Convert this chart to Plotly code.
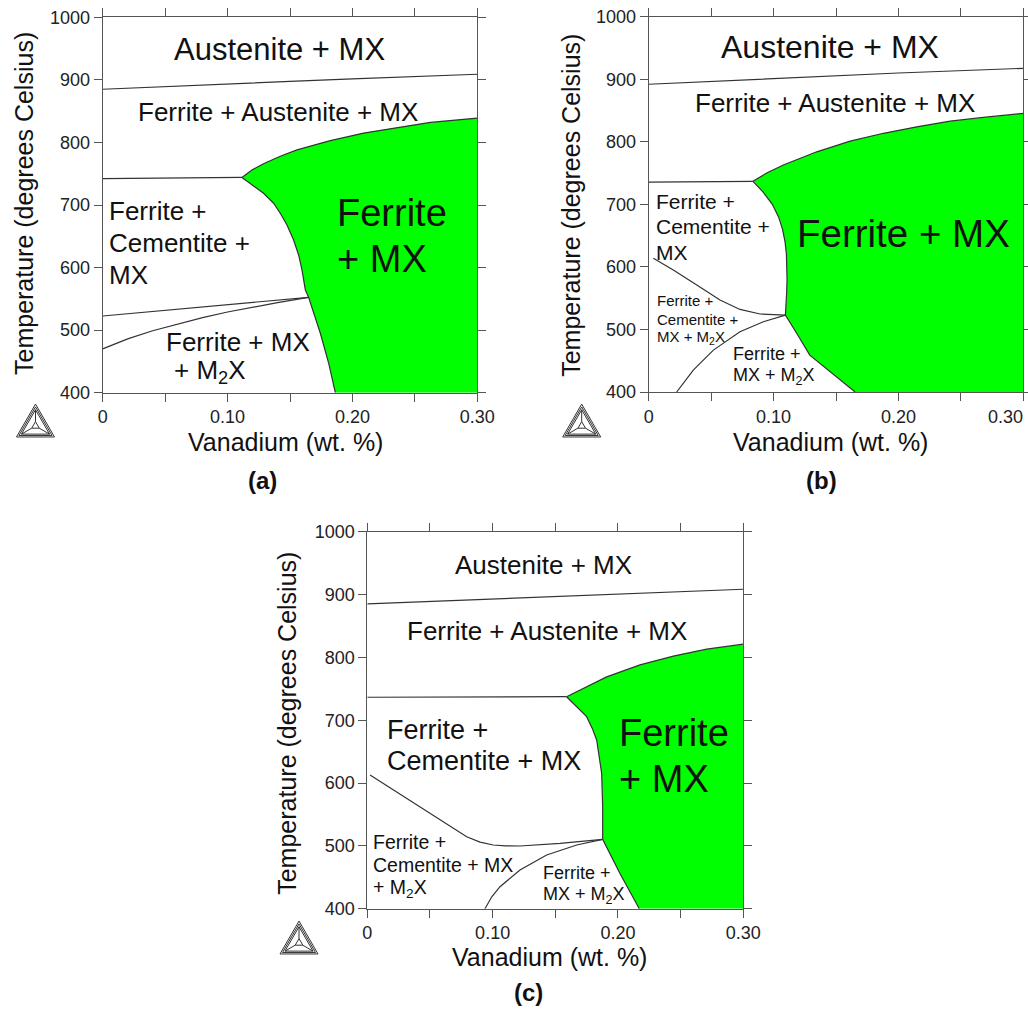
import plotly.graph_objects as go

W, H = 1028, 1009
FONT = "Liberation Sans, Arial, Helvetica, sans-serif"
GREEN = "#00ff00"
LINE = "#333333"
FRAME = "#555555"

# ---------------- Panel (a) ----------------
A_AUS_V = [0, 0.05, 0.10, 0.15, 0.20, 0.25, 0.30]
A_AUS_T = [885, 889.5, 893.5, 897.5, 901.5, 905.5, 909]
A_EUT_V = [0, 0.1115]
A_EUT_T = [742, 744]
A_TOP_V = [0.1115, 0.1195, 0.1288, 0.1422, 0.1556, 0.1823, 0.2090, 0.2358, 0.2625, 0.30]
A_TOP_T = [744, 756, 766, 778, 788, 803, 815, 824, 832, 839]
A_LEFT_V = [0.1115, 0.1182, 0.1288, 0.1369, 0.1422, 0.1476, 0.1529, 0.1569, 0.1596, 0.1623,
            0.1649, 0.1743, 0.1810, 0.1863]
A_LEFT_T = [744, 734.8, 718.8, 702.8, 686.8, 668.1, 644.1, 620.1, 596.2, 564.2,
            552.5, 495, 447, 400]
A_UP_V = [0, 0.07, 0.11, 0.1649]
A_UP_T = [522.6, 535, 542.5, 552.5]
A_LO_V = [0, 0.02, 0.04, 0.06, 0.08, 0.10, 0.12, 0.14, 0.1649]
A_LO_T = [470, 486, 499, 510, 520, 529, 537, 544, 552.5]

# ---------------- Panel (b) ----------------
B_AUS_V = [0, 0.10, 0.20, 0.30]
B_AUS_T = [892, 901, 910, 917.5]
B_EUT_V = [0, 0.0835]
B_EUT_T = [735.5, 736.8]
B_TOP_V = [0.0835, 0.0945, 0.1078, 0.1346, 0.1613, 0.1880, 0.2147, 0.2414, 0.2680, 0.30]
B_TOP_T = [736.8, 750, 763, 784, 801, 813.6, 824, 833, 839, 845.5]
B_LEFT_V = [0.0835, 0.0915, 0.0990, 0.1040, 0.1072, 0.1092, 0.1103, 0.1108, 0.1108, 0.1105,
            0.1100, 0.1095, 0.1185, 0.1290, 0.1653]
B_LEFT_T = [736.8, 720, 700, 680, 660, 640, 620, 600, 580, 560,
            540, 523, 494, 459, 400]
B_UP_V = [0.0037, 0.0197, 0.0385, 0.0571, 0.0731, 0.0892, 0.1095]
B_UP_T = [613.7, 595, 571, 547, 532, 524.7, 523]
B_LO_V = [0.0224, 0.0357, 0.0518, 0.0731, 0.0918, 0.1095]
B_LO_T = [400, 435, 467, 496.4, 512.4, 523]

# ---------------- Panel (c) ----------------
C_AUS_V = [0, 0.10, 0.20, 0.30]
C_AUS_T = [885, 893, 901, 908.4]
C_EUT_V = [0, 0.159]
C_EUT_T = [736.5, 737.4]
C_TOP_V = [0.159, 0.175, 0.191, 0.2176, 0.2442, 0.2708, 0.30]
C_TOP_T = [737.4, 753.4, 769, 788, 802, 813, 821]
C_LEFT_V = [0.159, 0.167, 0.175, 0.1795, 0.183, 0.187, 0.1878, 0.1878, 0.2016, 0.217]
C_LEFT_T = [737.4, 721, 705.6, 687, 668.5, 615.5, 562.3, 510.4, 456, 400]
C_UP_V = [0.0022, 0.0208, 0.042, 0.0606, 0.0793, 0.0899, 0.1005, 0.1100, 0.1218, 0.1538, 0.1878]
C_UP_T = [612.8, 589, 562.3, 538.5, 514.6, 506, 501.4, 500, 499.8, 504, 510.4]
C_LO_V = [0.0939, 0.0993, 0.1059, 0.1218, 0.1431, 0.1671, 0.1878]
C_LO_T = [400, 419, 435, 461.6, 485.5, 501.4, 510.4]

V_RANGE = [0, 0.30]
T_RANGE = [400, 1000]
V_TICKS = [0, 0.10, 0.20, 0.30]
V_TICKTEXT = ["0", "0.10", "0.20", "0.30"]
V_MINOR = [0.05, 0.15, 0.25]
T_TICKS = [400, 500, 600, 700, 800, 900, 1000]
X_TITLE = "Vanadium (wt. %)"
Y_TITLE = "Temperature (degrees Celsius)"

# Region labels: (text, V, T, size, xanchor)
A_LABELS = [
    ("Austenite + MX", 0.1414, 948, 31, "center"),
    ("Ferrite + Austenite + MX", 0.1405, 849, 26, "center"),
    ("Ferrite +", 0.0032, 690, 26, "left"),
    ("Cementite +", 0.0032, 639, 26, "left"),
    ("MX", 0.0032, 588, 26, "left"),
    ("Ferrite", 0.1858, 687, 38, "left"),
    ("+ MX", 0.1858, 613, 38, "left"),
    ("Ferrite + MX", 0.0492, 481.5, 26, "left"),
    ("+ M<sub>2</sub>X", 0.0553, 433.6, 26, "left"),
]
B_LABELS = [
    ("Austenite + MX", 0.145, 952, 32, "center"),
    ("Ferrite + Austenite + MX", 0.1495, 862.5, 26, "center"),
    ("Ferrite +", 0.0045, 704.2, 21, "left"),
    ("Cementite +", 0.0045, 664.3, 21, "left"),
    ("MX", 0.0045, 623.3, 21, "left"),
    ("Ferrite + MX", 0.204, 653.7, 38.5, "center"),
    ("Ferrite +", 0.0053, 545.5, 15, "left"),
    ("Cementite +", 0.0053, 516.7, 15, "left"),
    ("MX + M<sub>2</sub>X", 0.0053, 487.5, 15, "left"),
    ("Ferrite +", 0.0657, 460.8, 18, "left"),
    ("MX + M<sub>2</sub>X", 0.0657, 424.5, 18, "left"),
]
C_LABELS = [
    ("Austenite + MX", 0.1407, 947, 26, "center"),
    ("Ferrite + Austenite + MX", 0.1431, 842, 26, "center"),
    ("Ferrite +", 0.0141, 684.4, 27, "left"),
    ("Cementite + MX", 0.0141, 635.6, 27, "left"),
    ("Ferrite", 0.1995, 679.2, 38, "left"),
    ("+ MX", 0.1995, 606, 38, "left"),
    ("Ferrite +", 0.0030, 506.6, 19.5, "left"),
    ("Cementite + MX", 0.0030, 469.6, 19.5, "left"),
    ("+ M<sub>2</sub>X", 0.0030, 432.5, 19.5, "left"),
    ("Ferrite +", 0.1386, 456.3, 18, "left"),
    ("MX + M<sub>2</sub>X", 0.1386, 421.8, 18, "left"),
]


def px(x):
    return x / W


def py(y):
    return 1 - y / H


PANELS = [
    dict(name="(a)", xa="x", ya="y", xdom=[102.7, 477.3], ydom=[17.3, 392.7],
         aus=(A_AUS_V, A_AUS_T), eut=(A_EUT_V, A_EUT_T), top=(A_TOP_V, A_TOP_T),
         left=(A_LEFT_V, A_LEFT_T), lines=[(A_UP_V, A_UP_T), (A_LO_V, A_LO_T)],
         labels=A_LABELS, xtitle=(285.5, 441.7), ytitle=(24, 204),
         tag=(262, 480), logo=(35.5, 426), page_edge=False),
    dict(name="(b)", xa="x2", ya="y2", xdom=[648.7, 1023.3], ydom=[16.7, 392.0],
         aus=(B_AUS_V, B_AUS_T), eut=(B_EUT_V, B_EUT_T), top=(B_TOP_V, B_TOP_T),
         left=(B_LEFT_V, B_LEFT_T), lines=[(B_UP_V, B_UP_T), (B_LO_V, B_LO_T)],
         labels=B_LABELS, xtitle=(830.5, 441.7), ytitle=(570.8, 205),
         tag=(821, 480), logo=(581.7, 426), page_edge=True),
    dict(name="(c)", xa="x3", ya="y3", xdom=[367.3, 743.3], ydom=[531.7, 908.7],
         aus=(C_AUS_V, C_AUS_T), eut=(C_EUT_V, C_EUT_T), top=(C_TOP_V, C_TOP_T),
         left=(C_LEFT_V, C_LEFT_T), lines=[(C_UP_V, C_UP_T), (C_LO_V, C_LO_T)],
         labels=C_LABELS, xtitle=(549, 956.7), ytitle=(287.5, 723.3),
         tag=(528, 992), logo=(299, 943), page_edge=False),
]

fig = go.Figure()
annotations = []
shapes = []


def logo_shapes(cx, cy, size=38):
    """Nested-triangle software logo drawn in pixel space around its centroid (cx, cy)."""
    h = size * 0.866
    out = []

    def tri(scale):
        return [(cx + dx * scale, cy + dy * scale)
                for dx, dy in [(0, -2 * h / 3), (-size / 2, h / 3), (size / 2, h / 3)]]

    def tri_path(p):
        return "M {} {} L {} {} L {} {} Z".format(
            px(p[0][0]), py(p[0][1]), px(p[1][0]), py(p[1][1]), px(p[2][0]), py(p[2][1]))

    for s in (1.0, 0.87, 0.74):
        out.append(dict(type="path", xref="paper", yref="paper", path=tri_path(tri(s)),
                        line=dict(color="#333333", width=1)))
    inner = tri(0.2)
    outer = tri(0.74)
    out.append(dict(type="path", xref="paper", yref="paper", path=tri_path(inner),
                    line=dict(color="#333333", width=1)))
    for a, b in zip(inner, outer):
        out.append(dict(type="line", xref="paper", yref="paper",
                        x0=px(a[0]), y0=py(a[1]), x1=px(b[0]), y1=py(b[1]),
                        line=dict(color="#333333", width=1)))
    return out


for i, p in enumerate(PANELS):
    xa, ya = p["xa"], p["ya"]
    # green Ferrite + MX field: left boundary (top -> bottom), lower right corner, top boundary back
    lv, lt = p["left"]
    tv, tt = p["top"]
    fill_v = list(lv) + [V_RANGE[1]] + list(reversed(tv))
    fill_t = list(lt) + [T_RANGE[0]] + list(reversed(tt))
    fig.add_trace(go.Scatter(x=fill_v, y=fill_t, xaxis=xa, yaxis=ya, mode="lines",
                             fill="toself", fillcolor=GREEN, line=dict(width=0, color=GREEN),
                             hoverinfo="skip", showlegend=False))
    curves = [p["aus"], p["eut"], p["top"], p["left"]] + p["lines"]
    for cv, ct in curves:
        fig.add_trace(go.Scatter(x=cv, y=ct, xaxis=xa, yaxis=ya, mode="lines",
                                 line=dict(color=LINE, width=1.2),
                                 hoverinfo="skip", showlegend=False))
    for text, v, t, size, anchor in p["labels"]:
        annotations.append(dict(text=text, x=v, y=t, xref=xa, yref=ya, showarrow=False,
                                xanchor=anchor, yanchor="middle",
                                font=dict(family=FONT, size=size, color="#111111")))
    if p["page_edge"]:
        # last x label sits against the page edge, so it is right-aligned to its tick
        annotations.append(dict(text=V_TICKTEXT[-1], x=V_TICKS[-1], y=py(417),
                                xref=xa, yref="paper", showarrow=False,
                                xanchor="right", yanchor="middle", xshift=2,
                                font=dict(family=FONT, size=18, color="#222222")))
    annotations.append(dict(text=X_TITLE, x=px(p["xtitle"][0]), y=py(p["xtitle"][1]),
                            xref="paper", yref="paper", showarrow=False,
                            xanchor="center", yanchor="middle",
                            font=dict(family=FONT, size=25, color="#111111")))
    annotations.append(dict(text=Y_TITLE, x=px(p["ytitle"][0]), y=py(p["ytitle"][1]),
                            xref="paper", yref="paper", showarrow=False, textangle=-90,
                            xanchor="center", yanchor="middle",
                            font=dict(family=FONT, size=25, color="#111111")))
    annotations.append(dict(text="<b>" + p["name"] + "</b>", x=px(p["tag"][0]),
                            y=py(p["tag"][1]), xref="paper", yref="paper", showarrow=False,
                            xanchor="center", yanchor="middle",
                            font=dict(family=FONT, size=24, color="#111111")))
    shapes.extend(logo_shapes(*p["logo"]))

axis_common = dict(showline=True, linecolor=FRAME, linewidth=1, mirror="ticks",
                   ticks="outside", ticklen=8, tickcolor=FRAME, tickwidth=1,
                   showgrid=False, zeroline=False, fixedrange=True, automargin=False,
                   tickfont=dict(family=FONT, size=18, color="#222222"))

layout = dict(width=W, height=H, margin=dict(l=0, r=0, t=0, b=0, autoexpand=False),
              template="none", paper_bgcolor="white", plot_bgcolor="white",
              annotations=annotations, shapes=shapes, showlegend=False)

for i, p in enumerate(PANELS):
    sfx = "" if i == 0 else str(i + 1)
    if p["page_edge"]:
        major, major_text, minor = V_TICKS[:-1], V_TICKTEXT[:-1], V_MINOR + V_TICKS[-1:]
    else:
        major, major_text, minor = V_TICKS, V_TICKTEXT, V_MINOR
    layout["xaxis" + sfx] = dict(axis_common, domain=[px(p["xdom"][0]), px(p["xdom"][1])],
                                 anchor="y" + sfx, range=V_RANGE,
                                 tickvals=major, ticktext=major_text,
                                 minor=dict(tickvals=minor, ticks="outside",
                                            ticklen=8, tickcolor=FRAME, tickwidth=1,
                                            showgrid=False))
    layout["yaxis" + sfx] = dict(axis_common, domain=[py(p["ydom"][1]), py(p["ydom"][0])],
                                 anchor="x" + sfx, range=T_RANGE, tickvals=T_TICKS)

fig.update_layout(**layout)
fig.write_html("out.html")
